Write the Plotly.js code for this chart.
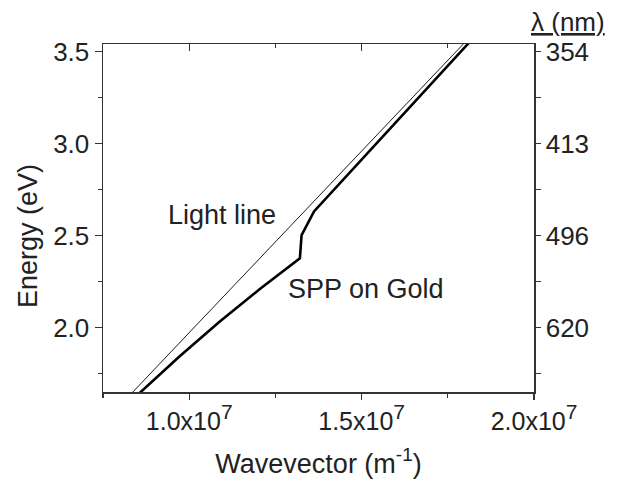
<!DOCTYPE html>
<html>
<head>
<meta charset="utf-8">
<script src="https://cdn.plot.ly/plotly-3.0.1.min.js"></script>
<style>
  html, body { margin: 0; padding: 0; background: #fff; }
  #chart { width: 618px; height: 484px; }
</style>
</head>
<body>
<div id="chart"></div>
<script>
// Light line: E = hbar*c*k (wavevector in 1/m, energy in eV)
const lightK = [0.831e7, 1.799e7];
const lightE = [1.64, 3.55];

// Surface plasmon polariton dispersion on gold
const sppK = [0.853e7, 0.970e7, 1.087e7, 1.204e7, 1.321e7, 1.326e7, 1.362e7, 1.587e7, 1.812e7];
const sppE = [1.64, 1.841, 2.031, 2.209, 2.377, 2.504, 2.632, 3.091, 3.55];

// Axis ticks
const kTickVals = [1.0e7, 1.5e7, 2.0e7];
const kTickText = ['1.0x10<sup><span style="font-size:21px">7</span></sup>',
                   '1.5x10<sup><span style="font-size:21px">7</span></sup>',
                   '2.0x10<sup><span style="font-size:21px">7</span></sup>'];
const kMinorVals = [0.75e7, 1.25e7, 1.75e7];
const eTickVals = [2.0, 2.5, 3.0, 3.5];
const eTickText = ['2.0', '2.5', '3.0', '3.5'];
const eMinorVals = [1.75, 2.25, 2.75, 3.25];
const lambdaText = ['620', '496', '413', '354'];   // 1240 / E, in nm

const kRange = [0.75e7, 2.0e7];
const eRange = [1.651, 3.542];

const ink = '#222';
const axisColor = '#333';
const font = 'Liberation Sans, Arial, Helvetica, sans-serif';

const traces = [
  {
    x: sppK, y: sppE, type: 'scatter', mode: 'lines',
    line: { color: '#000', width: 2.6 },
    xaxis: 'x', yaxis: 'y', hoverinfo: 'skip', showlegend: false
  },
  {
    x: lightK, y: lightE, type: 'scatter', mode: 'lines',
    line: { color: '#000', width: 0.9 },
    xaxis: 'x2', yaxis: 'y2', hoverinfo: 'skip', showlegend: false
  }
];

const layout = {
  width: 618, height: 484,
  margin: { l: 103, r: 84, t: 44, b: 92 },
  paper_bgcolor: '#fff', plot_bgcolor: '#fff',
  font: { family: font, color: ink, size: 25 },
  showlegend: false,
  xaxis: {
    range: kRange, showgrid: false, zeroline: false,
    showline: true, linecolor: axisColor, linewidth: 1.5,
    tickmode: 'array', tickvals: kTickVals, ticktext: kTickText,
    ticks: 'outside', ticklen: 6, tickwidth: 1.2, tickcolor: axisColor,
    minor: { tickvals: kMinorVals, ticks: 'outside', ticklen: 4, tickwidth: 1.2, tickcolor: axisColor },
    tickfont: { size: 25, color: ink },
    title: { text: 'Wavevector (m<sup>-1</sup>)', font: { size: 27, color: ink }, standoff: 20 }
  },
  yaxis: {
    range: eRange, showgrid: false, zeroline: false,
    showline: true, linecolor: axisColor, linewidth: 1.5,
    tickmode: 'array', tickvals: eTickVals, ticktext: eTickText,
    ticks: 'outside', ticklen: 7, tickwidth: 1.2, tickcolor: axisColor,
    minor: { tickvals: eMinorVals, ticks: 'outside', ticklen: 4, tickwidth: 1.2, tickcolor: axisColor },
    tickfont: { size: 26, color: ink }
  },
  xaxis2: {
    overlaying: 'x', side: 'top', anchor: 'y2',
    range: kRange, showgrid: false, zeroline: false,
    showline: true, linecolor: axisColor, linewidth: 1.5,
    tickmode: 'array', tickvals: [1.0e7, 1.5e7], showticklabels: false,
    ticks: 'inside', ticklen: 7, tickwidth: 1.2, tickcolor: axisColor,
    minor: { tickvals: [1.25e7, 1.75e7], ticks: 'inside', ticklen: 4, tickwidth: 1.2, tickcolor: axisColor }
  },
  yaxis2: {
    overlaying: 'y', side: 'right', anchor: 'x2',
    range: eRange, showgrid: false, zeroline: false,
    showline: true, linecolor: axisColor, linewidth: 1.5,
    tickmode: 'array', tickvals: eTickVals, ticktext: lambdaText,
    ticks: 'outside', ticklen: 5, tickwidth: 1.2, tickcolor: axisColor,
    minor: { tickvals: eMinorVals, ticks: 'outside', ticklen: 5, tickwidth: 1.2, tickcolor: axisColor },
    tickfont: { size: 26, color: ink }
  },
  annotations: [
    {
      text: 'Energy (eV)', textangle: -90,
      xref: 'paper', yref: 'paper', x: -0.174, y: 0.448,
      xanchor: 'center', yanchor: 'middle', showarrow: false,
      font: { size: 27, color: ink }
    },
    {
      text: '<u>λ (nm)</u>',
      xref: 'paper', yref: 'paper', x: 1.079, y: 1.062,
      xanchor: 'center', yanchor: 'middle', showarrow: false,
      font: { size: 26, color: ink }
    },
    {
      text: 'Light line',
      xref: 'x', yref: 'y', x: 1.0937e7, y: 2.615,
      xanchor: 'center', yanchor: 'middle', showarrow: false,
      font: { size: 27, color: ink }
    },
    {
      text: 'SPP on Gold',
      xref: 'x', yref: 'y', x: 1.5128e7, y: 2.2103,
      xanchor: 'center', yanchor: 'middle', showarrow: false,
      font: { size: 27, color: ink }
    }
  ]
};

Plotly.newPlot('chart', traces, layout, { staticPlot: true, displayModeBar: false });
</script>
</body>
</html>
